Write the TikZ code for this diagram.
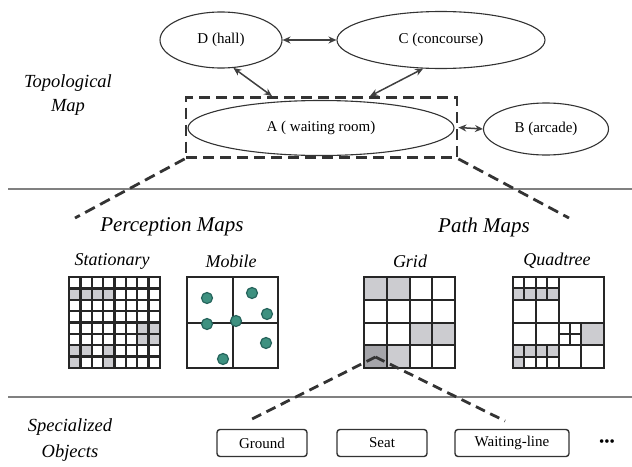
\documentclass[tikz,border=0pt]{standalone}
\usepackage{fontspec}
\setmainfont{Liberation Serif}
\usetikzlibrary{shapes.geometric,arrows.meta}
\definecolor{cellgray}{RGB}{204,204,208}
\definecolor{darkcell}{RGB}{165,165,170}
\definecolor{dotfill}{RGB}{62,145,128}
\definecolor{dotring}{RGB}{38,100,92}
\begin{document}
\begin{tikzpicture}[x=1pt,y=-1pt,
  place/.style={ellipse,draw=black!80,line width=1.1pt,inner sep=0pt,
    font=\fontsize{15}{17}\selectfont},
  link/.style={{Stealth[length=8pt,width=7pt]}-{Stealth[length=8pt,width=7pt]},
    line width=1.5pt,draw=black!75},
  zoomline/.style={draw=black!80,line width=2.8pt,dash pattern=on 11pt off 6pt},
  sep/.style={draw=black!50,line width=1.1pt},
  layer/.style={font=\fontsize{18.5}{24}\selectfont\itshape,align=center},
  heading/.style={font=\fontsize{21}{23}\selectfont\itshape},
  maplabel/.style={font=\fontsize{18}{20}\selectfont\itshape},
  mapbox/.style={draw=black!85,line width=2pt,minimum size=91pt,inner sep=0pt},
  gridline/.style={draw=black!85,line width=2pt},
  obj/.style={draw=black!80,line width=1.4pt,rounded corners=3pt,minimum height=27pt,
    inner sep=0pt,font=\fontsize{15}{17}\selectfont},
  agent/.style={circle,fill=dotfill,draw=dotring,line width=1.2pt,minimum size=11pt,inner sep=0pt}
]
\useasboundingbox (0,0) rectangle (632,466);

% ---------- topological map ----------
\node[place,minimum width=122pt,minimum height=56pt] (D) at (221,40) {D (hall)};
\node[place,minimum width=208pt,minimum height=57pt] (C) at (441,40) {C (concourse)};
\node[place,minimum width=266pt,minimum height=55pt] (A) at (321,128) {A ( waiting room)};
\node[place,minimum width=125pt,minimum height=52pt] (B) at (546,129) {B (arcade)};
\node[draw=black!80,line width=2.8pt,dash pattern=on 11pt off 6pt,
  minimum width=271pt,minimum height=60pt,inner sep=0pt] (zone) at (321.5,127.5) {};

\draw[link] (D) -- (C);
\draw[link] (D.294) -- (zone.north -| 272,0);
\draw[link] (C.238) -- (zone.north -| 370,0);
\draw[link] (zone.east) -- (B.west);

\node[layer] (topo) at (68,95) {Topological\\Map};

\draw[sep] (8,189) -- (632,189);

% zoom into room A
\coordinate (zl) at (75,218);
\coordinate (zr) at (569,218);
\draw[zoomline] (zone.south west) -- (zl);
\draw[zoomline] (zone.south east) -- (zr);

% ---------- headings ----------
\node[heading] (perc) at (172,227) {Perception Maps};
\node[heading] (path) at (484,227) {Path Maps};
\node[maplabel] (lstat) at (112,261) {Stationary};
\node[maplabel] (lmob) at (231,261) {Mobile};
\node[maplabel] (lgrid) at (410,261) {Grid};
\node[maplabel] (lquad) at (557,261) {Quadtree};

% ---------- stationary occupancy grid ----------
\begin{scope}[shift={(69,277)}]
  \def\cs{11.375}
  \foreach \r/\c in {2/1,2/2,2/3,2/4,5/7,5/8,6/7,6/8,7/1,7/2,7/4,8/1,8/4}
    \fill[cellgray] ({(\c-1)*\cs},{(\r-1)*\cs}) rectangle ++(\cs,\cs);
  \foreach \i in {0,...,8} {
    \draw[gridline,line width=2.3pt] ({\i*\cs},0) -- ({\i*\cs},91);
    \draw[gridline,line width=2.3pt] (0,{\i*\cs}) -- (91,{\i*\cs});
  }
\end{scope}
\node[mapbox] (stat) at (114.5,322.5) {};

% ---------- mobile objects ----------
\node[mapbox] (mob) at (232.5,322.5) {};
\draw[gridline] (mob.north) -- (mob.south);
\draw[gridline] (mob.west) -- (mob.east);
\foreach \x/\y [count=\k] in {207/298,252/293,267/314,236/321,207/324,266/343,223/359}
  \node[agent] (ag\k) at (\x,\y) {};

% ---------- uniform path grid ----------
\begin{scope}[shift={(364,277)}]
  \def\cs{22.75}
  \foreach \r/\c in {1/1,1/2,3/3,3/4,4/2}
    \fill[cellgray] ({(\c-1)*\cs},{(\r-1)*\cs}) rectangle ++(\cs,\cs);
  \fill[darkcell] (0,{3*\cs}) rectangle ++(\cs,\cs);
  \foreach \i in {0,...,4} {
    \draw[gridline] ({\i*\cs},0) -- ({\i*\cs},91);
    \draw[gridline] (0,{\i*\cs}) -- (91,{\i*\cs});
  }
\end{scope}
\node[mapbox] (grid) at (409.5,322.5) {};
\coordinate (cell) at (375.5,357);

% ---------- quadtree ----------
\begin{scope}[shift={(513,277)}]
  \fill[cellgray] (0,11.375) rectangle (45.5,22.75);
  \fill[cellgray] (0,68.25) rectangle (45.5,79.625);
  \fill[cellgray] (0,79.625) rectangle (11.375,91);
  \fill[cellgray] (68.25,45.5) rectangle (91,68.25);
  % quadrants
  \draw[gridline] (45.5,0) -- (45.5,91);
  \draw[gridline] (0,45.5) -- (91,45.5);
  % top-left quadrant
  \draw[gridline] (22.75,0) -- (22.75,45.5);
  \draw[gridline] (0,22.75) -- (45.5,22.75);
  \draw[gridline] (11.375,0) -- (11.375,22.75);
  \draw[gridline] (34.125,0) -- (34.125,22.75);
  \draw[gridline] (0,11.375) -- (45.5,11.375);
  % bottom-left quadrant
  \draw[gridline] (22.75,45.5) -- (22.75,91);
  \draw[gridline] (0,68.25) -- (45.5,68.25);
  \draw[gridline] (11.375,68.25) -- (11.375,91);
  \draw[gridline] (34.125,68.25) -- (34.125,91);
  \draw[gridline] (0,79.625) -- (45.5,79.625);
  % bottom-right quadrant
  \draw[gridline] (68.25,45.5) -- (68.25,91);
  \draw[gridline] (45.5,68.25) -- (91,68.25);
  \draw[gridline] (56.875,45.5) -- (56.875,68.25);
  \draw[gridline] (45.5,56.875) -- (68.25,56.875);
\end{scope}
\node[mapbox] (quad) at (558.5,322.5) {};

\draw[sep] (8,397) -- (632,397);

% ---------- specialized objects ----------
\node[layer,font=\fontsize{18.5}{26}\selectfont\itshape] (spec) at (70,440) {Specialized\\Objects};
\node[obj,minimum width=90pt] (ground) at (262,443) {Ground};
\node[obj,minimum width=90pt] (seat) at (382,443) {Seat};
\node[obj,minimum width=114pt] (wait) at (512,443) {Waiting-line};
\node[font=\fontsize{15}{17}\selectfont] (more) at (607,443) {•••};

\coordinate (gl) at (248,421);
\coordinate (gr) at (505,421);
\draw[zoomline,dash pattern=on 10pt off 6pt] (cell) -- (gl);
\draw[zoomline,dash pattern=on 10pt off 6pt] (cell) -- (gr);
\end{tikzpicture}
\end{document}
